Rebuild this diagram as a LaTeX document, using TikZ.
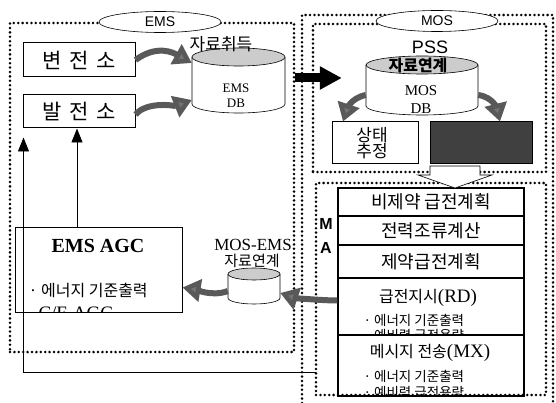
\documentclass[tikz,border=0pt]{standalone}
\usepackage{fontspec}
\setmainfont{Liberation Serif}
\newfontfamily\kr{Noto Sans CJK KR}
\newfontfamily\sansf{Liberation Sans}
\usetikzlibrary{arrows.meta,calc,shapes.geometric}
\newcommand\drawcyl[5]{%
  \fill[white] (#1-#4,#2) -- (#1-#4,#3) arc[start angle=180,end angle=0,x radius=#4,y radius=#5] -- (#1+#4,#2) -- cycle;
  \draw[line width=0.6pt] (#1-#4,#2) -- (#1-#4,#3) arc[start angle=180,end angle=0,x radius=#4,y radius=#5] -- (#1+#4,#2);
  \draw[line width=0.6pt,fill=gray!40] (#1,#2) ellipse[x radius=#4,y radius=#5];
}
\begin{document}
\begin{tikzpicture}[x=1pt,y=-1pt,
  dots/.style={line width=2.8pt,dash pattern=on 0pt off 4.4pt,line cap=round},
  sbox/.style={draw,line width=1pt,inner sep=0pt,rectangle},
  stk/.style={draw,line width=1.2pt,inner sep=0pt,rectangle,minimum width=186pt},
  lbl/.style={ellipse,draw,fill=white,line width=0.6pt,minimum width=122pt,minimum height=21pt,inner sep=0pt,font=\sansf\fontsize{14}{14}\selectfont},
  fat/.style={line width=6pt,draw=black!65,-{Triangle[length=18pt,width=22pt,color=black!65,fill=black!55]}},
  thin/.style={line width=0.8pt,-{Triangle[length=14pt,width=11pt]}},
  kA/.style={font=\kr\fontsize{21}{23}\selectfont},
  kB/.style={font=\kr\fontsize{15}{17}\selectfont},
  kS/.style={font=\kr\fontsize{18}{20}\selectfont},
  kC/.style={font=\kr\fontsize{13.5}{14}\selectfont},
]
\useasboundingbox (0,0) rectangle (556,403);

% dotted frames
\node[dots,draw,rectangle,minimum width=284pt,minimum height=329pt] (ems) at (152,187.5) {};
\draw[dots] (302,403) -- (302,15) -- (553,15) -- (553,403);
\node[dots,draw,rectangle,minimum width=233pt,minimum height=148pt] (pss) at (429.5,98) {};
\node[dots,draw,rectangle,minimum width=230pt,minimum height=212pt] (ma) at (431,289) {};

\node[lbl] (emsl) at (160,22) {EMS};
\node[lbl] (mosl) at (437,21) {MOS};

% EMS side boxes
\node[sbox,minimum width=112pt,minimum height=34pt,kA] (byeon) at (79,60) {변\hspace{8pt}전\hspace{8pt}소};
\node[sbox,minimum width=112pt,minimum height=33pt,kA] (bal) at (79,111.5) {발\hspace{8pt}전\hspace{8pt}소};
\node[sbox,minimum width=167pt,minimum height=85pt] (agc) at (98.5,269.5) {};
\node[font=\bfseries\fontsize{20}{20}\selectfont] (agct) at (98,246) {EMS AGC};
\node[anchor=west,font=\kr\fontsize{16}{17}\selectfont] (agcs) at (25,290) {· 에너지 기준출력};
\begin{scope}
\clip (15,227) rectangle (182,312);
\node[anchor=base west,font=\fontsize{19}{19}\selectfont] (agcc) at (35,319) {C/E AGC};
\end{scope}

% EMS DB
\drawcyl{238.5}{57}{104}{46.5}{9}
\node[minimum width=93pt,minimum height=66pt,inner sep=0pt] (emsdb) at (238.5,80) {};
\node[font=\kr\fontsize{17}{17}\selectfont] (acq) at (221,44) {자료취득};
\node[font=\fontsize{13}{13}\selectfont,align=center] (emsdbt) at (236,96) {EMS\\[2pt]DB};

% MOS DB
\node[font=\sansf\fontsize{18}{18}\selectfont] (psst) at (430,47) {PSS};
\drawcyl{422}{65}{106}{56}{9}
\node[minimum width=112pt,minimum height=60pt,inner sep=0pt] (mosdb) at (422,86) {};
\node[font=\kr\bfseries\fontsize{16}{16}\selectfont] (link) at (418,66) {자료연계};
\node[font=\fontsize{15}{15}\selectfont] (mosdbt1) at (421,91) {MOS};
\node[font=\fontsize{15}{15}\selectfont] (mosdbt2) at (421,109) {DB};

\node[sbox,minimum width=86pt,minimum height=42pt] (state) at (375,143) {};
\node[font=\kr\fontsize{17}{16}\selectfont,align=left] (statet) at (372,143) {상태\\추정};
\node[sbox,fill=black!75,minimum width=102pt,minimum height=42pt] (dark) at (481,143) {};

% stack
\node[stk,minimum height=28pt,kS] (b1) at (431,202) {비제약 급전계획};
\node[stk,minimum height=29pt,kS] (b2) at (431,230.5) {전력조류계산};
\node[stk,minimum height=33pt,kS] (b3) at (431,261.5) {제약급전계획};
\node[stk,minimum height=57pt] (b4) at (431,306.5) {};
\node[stk,minimum height=61pt] (b5) at (431,365.5) {};
\node[font=\fontsize{19}{19}\selectfont] (b4t) at (428,298) {{\kr\fontsize{16}{16}\selectfont 급전지시}(RD)};
\node[font=\fontsize{19}{19}\selectfont] (b5t) at (430,353) {{\kr\fontsize{16}{16}\selectfont 메시지 전송}(MX)};
\begin{scope}
\clip (338,278) rectangle (524,335);
\node[anchor=west,kC] (b4s1) at (360,320) {· 에너지 기준출력};
\node[anchor=west,kC] (b4s2) at (360,335) {· 예비력 급전용량};
\end{scope}
\begin{scope}
\clip (338,335) rectangle (524,396);
\node[anchor=west,kC] (b5s1) at (360,376) {· 에너지 기준출력};
\node[anchor=west,kC] (b5s2) at (360,392) {· 예비력 급전용량};
\end{scope}
\node[font=\sansf\bfseries\fontsize{16}{16}\selectfont] (mm) at (326,224) {M};
\node[font=\sansf\bfseries\fontsize{16}{16}\selectfont] (aa) at (326,248) {A};

% MOS-EMS DB
\drawcyl{254}{274}{298}{26}{6}
\node[minimum width=52pt,minimum height=38pt,inner sep=0pt] (me) at (254,287) {};
\node[font=\fontsize{17}{17}\selectfont] (met1) at (253,245) {MOS-EMS};
\node[kB] (met2) at (252,261) {자료연계};

% arrows
\draw[fat] (byeon.east) .. controls +(22,-16) and +(-18,-10) .. ([yshift=17pt]emsdb.west);
\draw[fat] ([yshift=-3pt]bal.east) .. controls +(12,-14) and +(-15,6) .. ([yshift=-20pt]emsdb.west);
\draw[line width=9pt,-{Triangle[length=22pt,width=22pt]},shorten <=10pt,shorten >=24pt] ([yshift=2pt]emsdb.east) -- ([yshift=8pt]mosdb.west);
\draw[fat] ([yshift=-9pt]mosdb.west) .. controls +(-15,3) and +(4,-12) .. ([xshift=-32pt]state.north);
\draw[fat] ([yshift=-9pt]mosdb.east) .. controls +(15,2) and +(-3,-12) .. ([xshift=19pt]dark.north);
\draw[fat] ([yshift=-4pt]me.west) .. controls +(-15,6) and +(12,2) .. ([yshift=-18pt]agc.east);
\draw[fat] ([yshift=6pt]b4.west) .. controls +(-15,0) and +(15,5) .. ([yshift=-6pt]me.east);

\draw[thin] ([xshift=-21.5pt]agc.north) -- ([xshift=-2pt]bal.south);
\coordinate (fb) at (316,372);
\draw[thin] (fb) -| ([xshift=1pt,yshift=-9pt]bal.south west);

% hollow arrow
\draw[fill=white,line width=0.6pt] (430,166) -- (480,166) -- (480,175) -- (492,175) -- (455,188) -- (418,175) -- (430,175) -- cycle;
\end{tikzpicture}
\end{document}
